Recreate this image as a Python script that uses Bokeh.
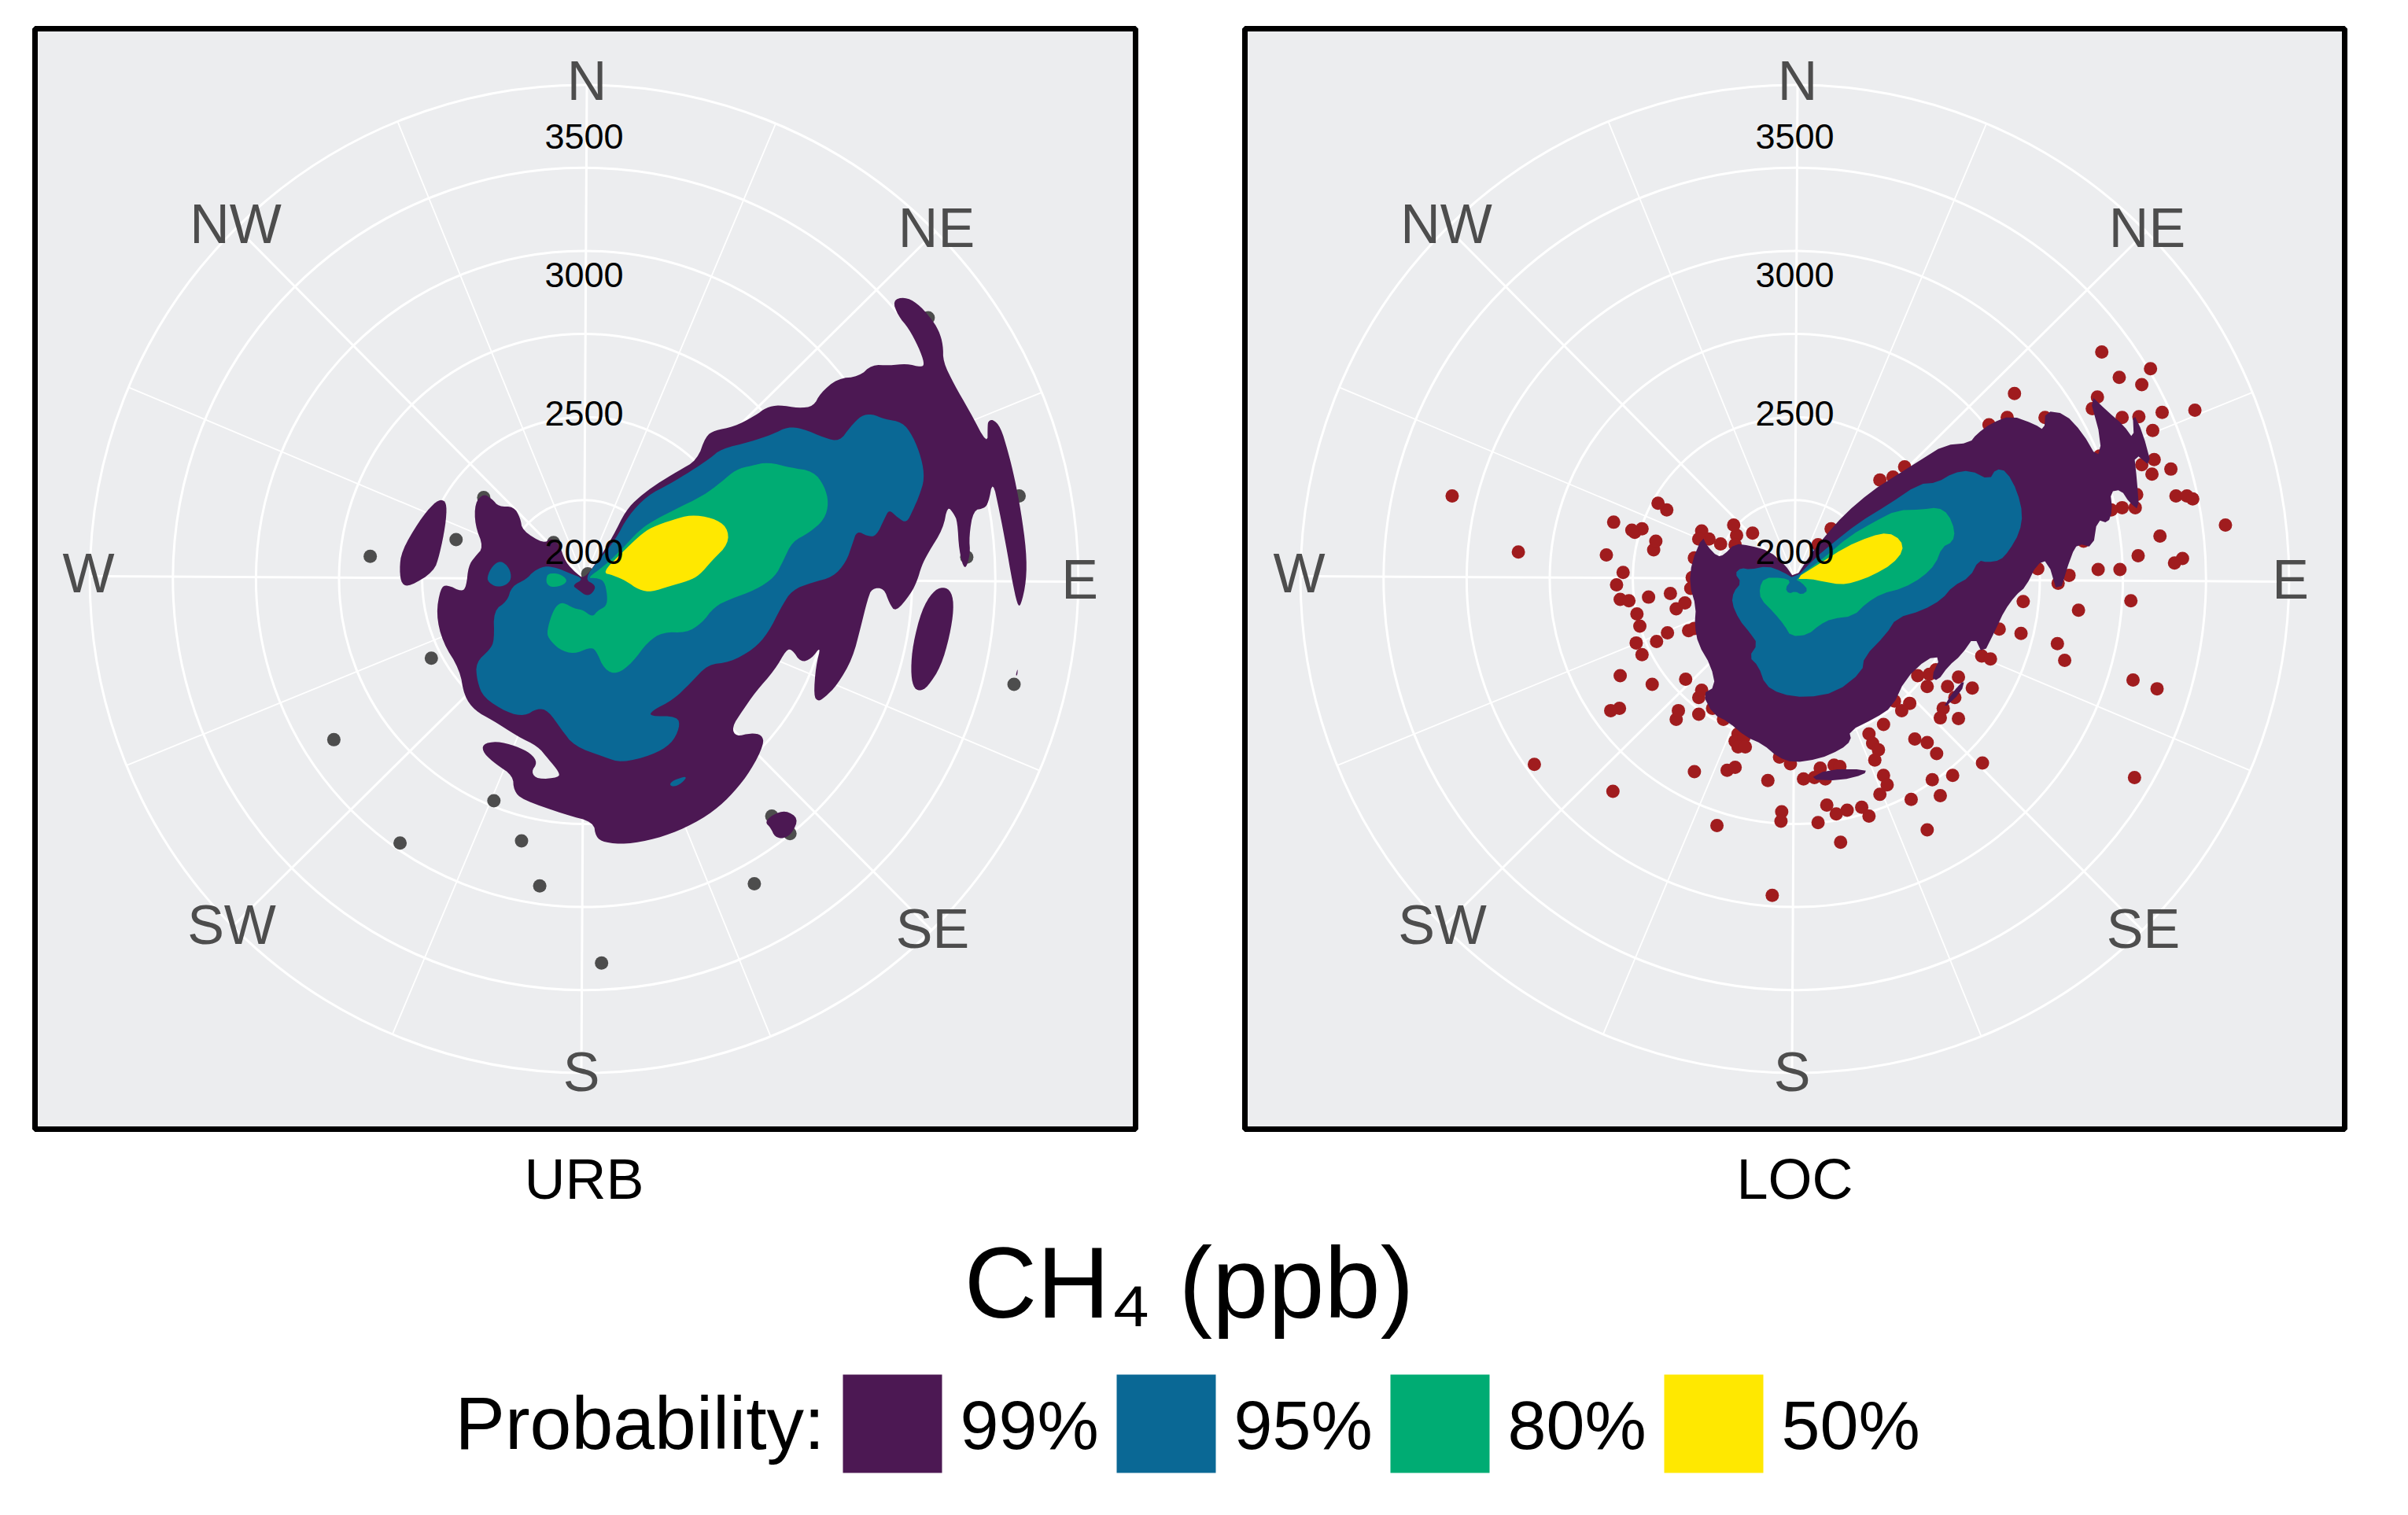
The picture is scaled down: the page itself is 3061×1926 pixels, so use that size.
import math
from bokeh.embed import file_html
from bokeh.resources import INLINE
from bokeh.core.properties import value
from bokeh.layouts import column, row
from bokeh.models import Range1d
from bokeh.plotting import figure

# ---------- axis values ----------
COMPASS = ["N", "NE", "E", "SE", "S", "SW", "W", "NW"]
COMPASS_DEG = [0, 45, 90, 135, 180, 225, 270, 315]
TICK_PPB = [2000, 2500, 3000, 3500]
RING_PPB = [2200, 2500, 2800, 3100, 3400, 3700]
HUB_PPB = 1915
PPB_TO_UNIT = 0.352
LEVELS = ["99%", "95%", "80%", "50%"]
COLORS = ["#4C1853", "#0A6895", "#00AC73", "#FFE800"]

# ---------- contours (digitised frame, hub at 443,795 / 404,665) ----------
URB_99 = [
    [(443,795),(475,745),(510,680),(540,610),(570,575),(610,540),(660,505),(705,475),(725,410),(745,395),(790,385),(840,355),(865,333),(895,326),(940,335),(975,330),(990,295),(1030,255),(1080,250),(1110,218),(1150,220),(1190,215),(1225,225),(1232,215),(1218,170),(1195,120),(1170,85),(1158,45),(1185,35),(1215,52),(1245,90),(1265,125),(1275,165),(1275,210),(1300,270),(1335,340),(1378,435),(1378,380),(1380,370),(1390,365),(1408,385),(1425,450),(1440,520),(1455,610),(1468,720),(1468,800),(1455,868),(1447,865),(1435,800),(1420,700),(1405,610),(1390,530),(1380,590),(1370,605),(1345,610),(1335,680),(1338,730),(1325,775),(1312,720),(1308,640),(1300,620),(1285,598),(1275,660),(1240,725),(1225,760),(1215,800),(1200,835),(1165,885),(1150,860),(1138,820),(1110,820),(1100,850),(1085,920),(1065,1010),(1030,1080),(1000,1115),(985,1125),(975,1110),(980,1030),(992,975),(970,1010),(945,1020),(925,985),(912,985),(885,1040),(840,1100),(810,1150),(785,1195),(795,1220),(830,1210),(855,1215),(860,1240),(830,1310),(790,1370),(745,1420),(680,1465),(610,1495),(540,1510),(490,1505),(470,1490),(465,1450),(400,1430),(300,1390),(280,1365),(278,1325),(240,1295),(210,1265),(207,1240),(240,1232),(285,1245),(320,1265),(335,1290),(320,1315),(335,1335),(385,1330),(385,1315),(360,1280),(335,1245),(290,1220),(230,1175),(190,1150),(165,1110),(155,1040),(115,965),(100,890),(110,820),(125,810),(160,830),(170,815),(175,760),(190,735),(210,710),(190,650),(190,590),(210,565),(230,580),(245,600),(280,600),(295,630),(300,665),(350,700),(365,685),(385,700),(400,750),(425,780)],
    [(15,770),(20,720),(60,640),(95,590),(115,580),(125,595),(122,650),(108,730),(95,775),(40,815),(20,810)],
    [(1200,1040),(1205,970),(1225,880),(1250,830),(1275,815),(1295,830),(1300,875),(1290,950),(1270,1030),(1240,1085),(1220,1098),(1205,1085)],
    [(862,1450),(880,1430),(910,1418),(940,1440),(925,1480),(905,1495),(885,1490),(875,1465)],
    [(1443,1055),(1448,1035),(1447,1055)],
]
URB_95 = [
    [(443,795),(480,740),(515,690),(545,625),(590,570),(640,540),(690,505),(735,470),(760,445),(830,425),(880,405),(915,385),(950,390),(1000,415),(1035,425),(1060,385),(1085,355),(1110,350),(1140,365),(1180,372),(1205,410),(1225,470),(1232,525),(1220,570),(1205,610),(1190,645),(1170,630),(1150,608),(1140,630),(1120,680),(1100,680),(1075,665),(1065,700),(1050,750),(1020,790),(970,805),(925,825),(900,870),(870,940),(835,985),(780,1020),(730,1025),(690,1075),(650,1120),(600,1150),(595,1165),(660,1165),(665,1195),(645,1240),(600,1270),(530,1290),(490,1275),(420,1245),(390,1200),(360,1150),(335,1143),(305,1165),(265,1155),(210,1115),(195,1070),(192,1020),(225,985),(235,960),(233,880),(265,855),(275,815),(310,795),(325,775),(350,760),(380,765),(410,780),(443,795),(415,812),(430,825),(450,842),(465,830),(470,812)],
    [(218,790),(230,760),(250,745),(270,765),(275,795),(262,812),(240,817),(222,805)],
    [(640,1350),(650,1337),(683,1325),(670,1345),(652,1355)],
]
URB_80 = [
    [(450,793),(490,760),(530,715),(570,665),(600,640),(650,610),(720,570),(760,535),(795,500),(830,490),(870,480),(920,495),(975,505),(1000,545),(1010,590),(1000,635),(965,670),(925,695),(905,745),(885,790),(840,825),(780,850),(745,870),(715,915),(680,940),(625,938),(590,965),(555,1020),(520,1052),(490,1040),(470,985),(455,980),(420,998),(385,985),(360,955),(357,935),(368,890),(380,865),(395,858),(420,875),(440,878),(462,898),(475,880),(495,868),(497,840),(490,800),(470,792)],
    [(355,795),(360,780),(385,780),(405,797),(395,812),(370,818),(357,810)],
]
URB_50 = [
    [(485,778),(530,725),(570,680),(600,655),(650,635),(690,622),(740,630),(775,655),(778,700),(740,745),(710,785),(685,800),(640,815),(600,830),(570,825),(540,800),(510,785)],
]
LOC_99 = [
    [(404,665),(440,600),(470,555),(520,490),(580,430),(640,385),(695,345),(750,305),(810,298),(825,275),(860,245),(905,225),(960,248),(982,265),(985,212),(1030,220),(1070,270),(1105,340),(1115,295),(1085,165),(1130,215),(1165,250),(1190,290),(1187,215),(1210,270),(1232,365),(1190,325),(1197,400),(1202,480),(1180,460),(1160,425),(1135,430),(1140,480),(1130,515),(1105,505),(1095,580),(1060,570),(1045,600),(1015,712),(990,615),(965,625),(940,685),(915,710),(890,750),(870,800),(840,870),(820,820),(790,870),(760,900),(735,940),(720,930),(742,875),(710,880),(660,935),(630,1010),(590,1040),(530,1075),(535,1100),(510,1125),(460,1150),(400,1160),(365,1145),(330,1110),(290,1090),(250,1050),(215,1030),(190,975),(220,955),(210,900),(180,840),(172,790),(175,740),(160,680),(165,620),(190,550),(200,575),(225,605),(240,600),(265,570),(300,575),(345,590),(380,625)],
    [(435,1205),(480,1178),(570,1178),(565,1192),(510,1208)],
    [(745,1018),(770,970),(798,935),(790,970)],
]
LOC_95 = [
    [(404,665),(450,610),(490,570),(550,515),(620,465),(690,410),(735,405),(770,380),(810,372),(855,398),(870,368),(895,375),(920,430),(932,490),(925,540),(900,590),(880,615),(850,620),(830,615),(810,660),(770,685),(745,720),(700,750),(640,770),(615,815),(565,875),(560,915),(500,970),(430,985),(370,975),(335,950),(320,900),(298,875),(318,840),(300,810),(275,775),(258,730),(262,700),(280,675),(265,650),(280,635),(300,640),(340,630),(375,645)],
]
LOC_80 = [
    [(404,665),(470,610),(530,550),(590,510),(640,480),(700,478),(735,472),(760,490),(775,535),(770,565),(745,580),(730,625),(700,660),(655,690),(605,705),(570,730),(540,765),(490,772),(460,790),(435,815),(395,820),(380,790),(355,755),(325,720),(322,690),(333,662),(375,662),(395,670),(382,690),(390,705),(405,698),(420,708),(435,695),(420,675)],
]
LOC_50 = [
    [(404,665),(460,625),(520,580),(580,550),(620,540),(650,560),(655,590),(630,625),(585,655),(540,675),(510,680),(470,672),(440,665)],
]

URB_POINTS = [(476,741),(594,718),(632,660),(560,881),(426,993),(517,1135),(646,1077),(684,1132),(709,1194),(794,1300),(1004,1191),(1361,917),(1368,658),(1243,413),(1028,1098),(1053,1122),(775,765),(728,722),(1296,742)]
LOC_POINTS = [(1190,460),(1257,483),(1214,495),(1245,505),(1070,517),(1184,522),(1177,538),(1318,540),(1273,543),(1218,550),(1241,549),(1260,568),(1035,560),(1060,550),(1112,550),(1285,621),(1245,615),(1262,608),(1259,628),(1187,603),(1292,658),(1307,658),(1315,662),(1238,656),(1218,674),(1236,674),(1360,698),(1270,713),(1203,677),(1165,720),(1240,740),(1301,744),(1290,750),(1185,759),(1215,759),(1145,767),(1102,758),(1130,778),(1230,802),(1158,815),(1082,803),(1049,841),(1079,847),(1129,861),(1139,884),(1233,911),(1266,923),(1025,878),(1037,882),(1235,1045),(1026,1025),(919,618),(885,636),(903,632),(818,703),(800,725),(937,905),(953,903),(962,897),(993,907),(978,920),(950,920),(1012,922),(988,935),(972,950),(968,963),(993,964),(926,943),(915,953),(905,940),(890,972),(933,992),(950,997),(870,985),(875,998),(883,1007),(963,1012),(878,1021),(985,1042),(957,1048),(890,1042),(895,1055),(968,1070),(928,1075),(885,1068),(860,1086),(870,1098),(840,1090),(825,1095),(812,1083),(800,1107),(831,1134),(950,1117),(822,1028),(803,1032),(830,1030),(810,1047),(795,1045),(780,1047),(750,1092),(749,1105),(731,1049),(762,1026),(747,1017),(661,1111),(737,1207),(630,1037),(675,1035),(686,1031),(690,985),(686,995),(698,990),(690,1003),(700,1003),(670,965),(655,950),(636,958),(605,965),(608,953),(636,935),(640,925),(618,910),(572,917),(528,905),(558,876),(527,950),(515,953),(518,1064),(410,1027),(550,860),(578,858),(593,846),(622,843),(630,840),(555,837),(551,820),(528,800),(540,802),(567,797),(597,792),(605,813),(617,805),(523,780),(532,763),(509,739),(574,732),(577,720),(548,708),(558,703),(544,705),(519,694),(592,677),(580,668),(640,706),(650,717),(636,717),(666,724),(688,712),(684,698),(710,709),(686,725),(690,740),(630,743),(627,770),(625,785),(297,658),(388,735)]

FONT = value("Liberation Sans")
ROT = 0.32


def polar(deg, r):
    a = math.radians(deg + ROT)
    return r * math.sin(a), r * math.cos(a)


def smooth(poly, rounds):
    # corner cutting: the digitised outline has straight runs where the original curve is round
    for _ in range(rounds):
        out = []
        for i, (x0, y0) in enumerate(poly):
            x1, y1 = poly[(i + 1) % len(poly)]
            out.append((0.75 * x0 + 0.25 * x1, 0.75 * y0 + 0.25 * y1))
            out.append((0.25 * x0 + 0.75 * x1, 0.25 * y0 + 0.75 * y1))
        poly = out
    return poly


def contour_xy(polys, hx, hy, rounds):
    polys = [smooth(poly, rounds) for poly in polys]
    xs = [[(x - hx) / 1.823 for x, _ in poly] for poly in polys]
    ys = [[(hy - y) / 2.119 for _, y in poly] for poly in polys]
    return xs, ys


def panel(levels, hx, hy, rounds, pts, phx, point_color, x_range, y_range, width, margin):
    p = figure(width=width, height=1409, x_range=Range1d(*x_range), y_range=Range1d(*y_range),
               x_axis_type=None, y_axis_type=None, toolbar_location=None, output_backend="svg",
               min_border=5, margin=margin, background_fill_color="#ECEDEF",
               outline_line_color="black", outline_line_width=7)
    p.grid.visible = False
    radii = [(v - HUB_PPB) * PPB_TO_UNIT for v in RING_PPB]
    p.circle(x=[0] * len(radii), y=[0] * len(radii), radius=radii, fill_color=None,
             line_color="white", line_width=3)
    for k in range(16):
        x1, y1 = polar(k * 22.5, radii[-1])
        p.segment(x0=[0], y0=[0], x1=[x1], y1=[y1], line_color="white",
                  line_width=3 if k % 2 == 0 else 1.8)
    p.scatter([(x - phx) / 1.0814 for x, _ in pts], [(772 - y) / 1.0814 for _, y in pts],
              size=17, fill_color=point_color, line_color=None)
    for polys, color in zip(levels, COLORS):
        xs, ys = contour_xy(polys, hx, hy, rounds)
        p.patches(xs, ys, fill_color=color, line_color=None)
    lab = [polar(d, 630) for d in COMPASS_DEG]
    p.text([c[0] for c in lab], [c[1] for c in lab], text=COMPASS, text_font=FONT,
           text_font_size="70px", text_color="#4D4D4D", text_align="center", text_baseline="middle",
           y_offset=-3)
    p.text([0] * len(TICK_PPB), [(v - HUB_PPB) * PPB_TO_UNIT for v in TICK_PPB],
           text=[str(v) for v in TICK_PPB], text_font=FONT, text_font_size="45px",
           text_color="black", text_align="center", text_baseline="middle", y_offset=-5)
    return p


p1 = panel([URB_99, URB_95, URB_80, URB_50], 443, 795, 2, URB_POINTS, 770, "#4D4D4D",
           (44 - 742, 1443 - 742), (735.5 - 1435, 735.5 - 36), 1409, (31, 0, 0, 39))
p2 = panel([LOC_99, LOC_95, LOC_80, LOC_50], 404, 665, 1, LOC_POINTS, 768, "#A01C1E",
           (1582 - 2281, 2980 - 2281), (735.5 - 1435, 735.5 - 36), 1408, (31, 0, 0, 129))

b = figure(width=3045, height=478, x_range=Range1d(0, 3045), y_range=Range1d(1918, 1440),
           x_axis_type=None, y_axis_type=None, toolbar_location=None, output_backend="svg",
           min_border=0, outline_line_color=None, background_fill_color="white")
b.grid.visible = False
b.text([742, 2281], [1498, 1498], text=["URB", "LOC"], text_font=FONT, text_font_size="72px",
       text_color="black", text_align="center", text_baseline="alphabetic")
b.text([1511], [1630], text=["CH₄ (ppb)"], text_font=FONT, text_font_size="128px",
       text_color="black", text_align="center", text_baseline="alphabetic")
b.text([1048], [1808], text=["Probability:"], text_font=FONT, text_font_size="95px",
       text_color="black", text_align="right", text_baseline="alphabetic")
slot = [1071 + 348 * i for i in range(len(LEVELS))]
b.quad(left=slot, right=[s + 126 for s in slot], top=[1747] * 4, bottom=[1872] * 4,
       fill_color=COLORS, line_color=None)
b.text([s + 149 for s in slot], [1811] * 4, text=LEVELS, text_font=FONT, text_font_size="88px",
       text_color="black", text_align="left", text_baseline="alphabetic")

page = column(row(p1, p2, spacing=0), b, spacing=0)
open("out.html", "w").write(file_html(page, INLINE))
